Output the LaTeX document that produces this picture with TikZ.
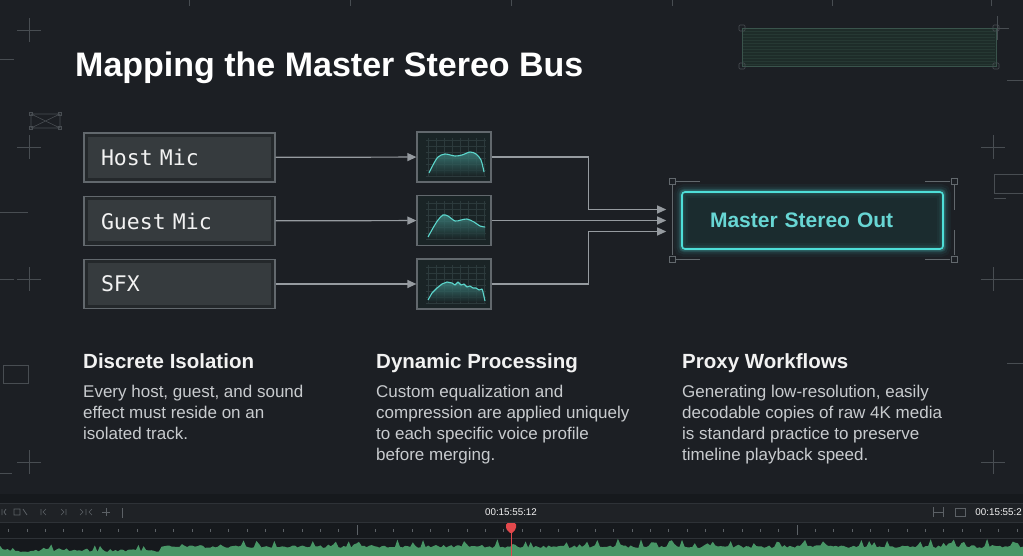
\documentclass[tikz,border=0pt]{standalone}
\usepackage{fontspec}
\setmainfont{Liberation Sans}
\setmonofont{DejaVu Sans Mono}
\usetikzlibrary{arrows.meta,calc}

\definecolor{bg}{RGB}{28,31,36}
\definecolor{boxline}{RGB}{98,104,109}
\definecolor{boxdark}{RGB}{36,40,43}
\definecolor{boxfill}{RGB}{54,59,62}
\definecolor{wirec}{RGB}{150,155,160}
\definecolor{eqbg}{RGB}{26,36,38}
\definecolor{eqgrid}{RGB}{44,58,60}
\definecolor{teal}{RGB}{92,214,204}
\definecolor{mline}{RGB}{78,222,216}
\definecolor{mfill}{RGB}{27,44,47}
\definecolor{mtext}{RGB}{104,214,212}
\definecolor{deco}{RGB}{72,77,82}
\definecolor{headc}{RGB}{242,242,242}
\definecolor{bodyc}{RGB}{200,203,206}
\definecolor{tlback}{RGB}{22,25,29}
\definecolor{tlrow}{RGB}{31,34,38}
\definecolor{tlline}{RGB}{46,50,55}
\definecolor{tlicon}{RGB}{92,97,102}
\definecolor{wave}{RGB}{72,150,102}
\definecolor{playred}{RGB}{226,72,76}
\definecolor{boxgreen}{RGB}{30,44,41}
\definecolor{boxgreenl}{RGB}{58,84,76}

\begin{document}
\begin{tikzpicture}[x=1pt, y=-1pt, >={Triangle[length=9pt,width=8pt]},
	inbox/.style={draw=boxline, line width=1.2pt, fill=boxdark, text=headc,
		minimum height=49pt, text width=157pt, inner xsep=17pt, align=left,
		font=\fontsize{21.5}{24}\selectfont\ttfamily,
		path picture={\fill[boxfill] ([shift={(4pt,-4pt)}]path picture bounding box.north west) rectangle ([shift={(-4pt,4pt)}]path picture bounding box.south east);}},
	eqbox/.style={draw=boxline, line width=1.2pt, fill=eqbg, minimum width=74pt, minimum height=50pt},
	wire/.style={draw=wirec, line width=1.2pt},
	eqcurve/.style={draw=teal, line width=1.1pt},
	head/.style={anchor=base west, inner sep=0pt, text=headc, font=\fontsize{20.5}{24}\selectfont\bfseries},
	body/.style={anchor=north west, inner sep=0pt, text=bodyc, align=left, font=\fontsize{17}{21}\selectfont},
	deco/.style={draw=deco, line width=0.6pt}]

% ================= 背景与边界 =================
\useasboundingbox (0,0) rectangle (1023,556);
\fill[bg] (0,0) rectangle (1023,556);

% ================= 四周的标尺装饰 =================
\foreach \tx in {189,350,511,672,832,991} \draw[deco] (\tx,0) -- (\tx,6);
\foreach \cx/\cy in {29/30,29/147,29/279,29/462,993/147,993/279,993/462,997/28}
	\draw[deco] (\cx-12,\cy) -- (\cx+12,\cy) (\cx,\cy-12) -- (\cx,\cy+12);
\draw[deco] (0,59) -- (14,59);
\draw[deco] (0,212) -- (28,212);
\draw[deco] (0,279) -- (14,279);
\draw[deco] (1007,80) -- (1023,80);
\draw[deco] (1005,279) -- (1023,279);
\draw[deco] (1007,363) -- (1023,363);
\draw[deco] (0,473) -- (12,473);
% 左上角的叉形小框
\draw[deco] (31,114) rectangle (60,128) (31,114) -- (60,128) (31,128) -- (60,114);
\foreach \cx/\cy in {31/114,60/114,31/128,60/128} \draw[deco] (\cx-1.5,\cy-1.5) rectangle (\cx+1.5,\cy+1.5);
% 两侧的小框
\draw[deco] (3,365) rectangle (28,383);
\draw[deco] (994,174) rectangle (1023,193);
\draw[deco] (994,198) -- (1006,198);

% 右上角的绿色面板
\fill[boxgreen] (742,28) rectangle (996,66);
\foreach \yy in {31,34,...,64} \draw[boxgreenl, line width=0.3pt, opacity=0.3] (743,\yy) -- (995,\yy);
\draw[boxgreenl, line width=0.6pt] (742,28) rectangle (996,66);
\foreach \cx/\cy in {742/28,996/28,742/66,996/66}
	\draw[deco, rounded corners=1pt] (\cx-3,\cy-3) rectangle (\cx+3,\cy+3);

% ================= 标题 =================
\node[anchor=base west, inner sep=0pt, text=white, font=\fontsize{34}{40}\selectfont\bfseries] (title) at (75,77) {Mapping the Master Stereo Bus};

% ================= 输入通道 =================
\node[inbox] (host) at (179.5,157.5) {Host Mic};
\node[inbox] (guest) at (179.5,221) {Guest Mic};
\node[inbox] (sfx) at (179.5,284) {SFX};

% ================= 均衡器小窗 =================
\node[eqbox] (eq1) at (454,157) {};
\node[eqbox] (eq2) at (454,220.5) {};
\node[eqbox] (eq3) at (454,284) {};

% 网格
\foreach \oy in {0,63.5,127} {
	\foreach \gx in {428,436,...,484} \draw[eqgrid, line width=0.3pt] (\gx,138+\oy) -- (\gx,176+\oy);
	\foreach \gy in {140,146,...,176} \draw[eqgrid, line width=0.3pt] (426,\gy+\oy) -- (486,\gy+\oy);
}

% 频响曲线 (下方渐变填充)
\shade[top color=teal!60!eqbg, bottom color=eqbg, opacity=0.75] (429,176) -- plot[smooth] coordinates {(429,173) (433,165) (438,157) (445,154) (455,156) (462,155) (470,152) (476,154) (481,160) (484,172)} -- (484,176) -- cycle;
\draw[eqcurve] plot[smooth] coordinates {(429,173) (433,165) (438,157) (445,154) (455,156) (462,155) (470,152) (476,154) (481,160) (484,172)};

\shade[top color=teal!60!eqbg, bottom color=eqbg, opacity=0.75] (428,239) -- plot[smooth] coordinates {(428,237) (433,228) (438,220) (443,215) (448,216) (455,221) (461,220) (467,219) (474,222) (480,226) (485,227)} -- (485,239) -- cycle;
\draw[eqcurve] plot[smooth] coordinates {(428,237) (433,228) (438,220) (443,215) (448,216) (455,221) (461,220) (467,219) (474,222) (480,226) (485,227)};

\shade[top color=teal!60!eqbg, bottom color=eqbg, opacity=0.75] (428,302) -- plot coordinates {(428,300) (432,293) (437,288) (442,284) (447,282) (452,283) (455,285) (458,282) (461,285) (464,284) (467,287) (470,286) (473,288) (476,288) (479,290) (482,289) (483,292) (485,301)} -- (485,302) -- cycle;
\draw[eqcurve, line join=round] plot coordinates {(428,300) (432,293) (437,288) (442,284) (447,282) (452,283) (455,285) (458,282) (461,285) (464,284) (467,287) (470,286) (473,288) (476,288) (479,290) (482,289) (483,292) (485,301)};

% ================= 总线输出 =================
\node[draw=mline, line width=1.6pt, fill=mfill, rounded corners=3pt, minimum width=261pt, minimum height=57pt,
	text width=205pt, inner xsep=28pt, align=left, text=mtext, font=\fontsize{21}{24}\selectfont\bfseries] (master) at (812.5,220.5) {Master Stereo Out};
\foreach \w/\o in {14/0.04, 9/0.07, 5/0.11, 3/0.18}
	\draw[mline, line width=\w pt, opacity=\o, rounded corners=3pt] (master.north west) rectangle (master.south east);

% 取景框角标
\foreach \cx/\cy in {672/181,954/181,672/259,954/259}
	\draw[deco, draw=boxline] (\cx-3,\cy-3) rectangle (\cx+3,\cy+3);
\draw[deco, draw=boxline] (676,181) -- (700,181) (925,181) -- (950,181) (676,259) -- (700,259) (925,259) -- (950,259);
\draw[deco, draw=boxline] (672,185) -- (672,255) (954,185) -- (954,210) (954,230) -- (954,255);

% ================= 连线 =================
\draw[wire, ->] (host) -- (eq1);
\draw[wire, ->] (guest) -- (eq2);
\draw[wire, ->] (sfx) -- (eq3);

\draw[wire, ->, shorten >=15pt] (eq1.east) -- ++(97,0) |- ([yshift=11pt]master.west);
\draw[wire, ->, shorten >=15pt] (eq2.east) -- (master.west);
\draw[wire, ->, shorten >=15pt] (eq3.east) -- ++(97,0) |- ([yshift=-11pt]master.west);

% ================= 三栏说明 =================
\node[head] (h1) at (83,368) {Discrete Isolation};
\node[head] (h2) at (376,368) {Dynamic Processing};
\node[head] (h3) at (682,368) {Proxy Workflows};

\node[body] (b1) at (83,385) {Every host, guest, and sound\\effect must reside on an\\isolated track.};
\node[body] (b2) at (376,385) {Custom equalization and\\compression are applied uniquely\\to each specific voice profile\\before merging.};
\node[body] (b3) at (682,385) {Generating low-resolution, easily\\decodable copies of raw 4K media\\is standard practice to preserve\\timeline playback speed.};

% ================= 底部时间线 =================
\fill[tlback] (0,494) rectangle (1023,556);
\fill[tlrow] (0,503) rectangle (1023,522);
\fill[tlback] (0,522) rectangle (1023,538);
\draw[tlline, line width=0.8pt] (0,503) -- (1023,503) (0,522) -- (1023,522) (0,538) -- (1023,538);

% 工具图标
\draw[tlicon, line width=0.7pt] (2,509) -- (2,515) (6,509) -- (4,512) -- (6,515);
\draw[tlicon, line width=0.7pt] (14,509) rectangle (20,515) (23,509) -- (27,515);
\draw[tlicon, line width=0.7pt] (41,509) -- (41,515) (46,509) -- (43,512) -- (46,515);
\draw[tlicon, line width=0.7pt] (61,509) -- (64,512) -- (61,515) (66,509) -- (66,515);
\draw[tlicon, line width=0.7pt] (80,509) -- (83,512) -- (80,515) (92,509) -- (89,512) -- (92,515) (86,509) -- (86,515);
\draw[tlicon, line width=0.7pt] (102,512) -- (110,512) (106,508) -- (106,516);
\draw[tlicon, line width=0.7pt] (122,508) -- (122,518);
\draw[tlicon, line width=0.7pt] (933,507) -- (933,517) (943,507) -- (943,517) (933,512) -- (943,512);
\draw[tlicon, line width=0.7pt] (955,508) rectangle (965,516);

\node[inner sep=0pt, text=headc, font=\fontsize{9.8}{11}\selectfont] (tc1) at (511,512) {00:15:55:12};
\node[anchor=east, inner sep=0pt, text=headc, font=\fontsize{9.8}{11}\selectfont] (tc2) at (1022,512) {00:15:55:2};

% 刻度
\foreach \k in {0,...,55} \draw[tlicon, line width=0.6pt] (8.67+18.333*\k,529) -- (8.67+18.333*\k,532);
\draw[tlicon, line width=0.8pt] (357,525) -- (357,535) (797,525) -- (797,535);

% 波形
\pgfmathsetseed{42}
\fill[wave] (0,556) -- plot[domain=0:1023, samples=400] (\x, {552 - (\x>163)*4 - 2.5*rnd - 8*rnd^8}) -- (1023,556) -- cycle;

% 播放头
\draw[playred, line width=1pt] (511,530) -- (511,556);
\fill[playred, rounded corners=1.5pt] (506,523) -- (516,523) -- (516,529) -- (511,534) -- (506,529) -- cycle;

\end{tikzpicture}
\end{document}
